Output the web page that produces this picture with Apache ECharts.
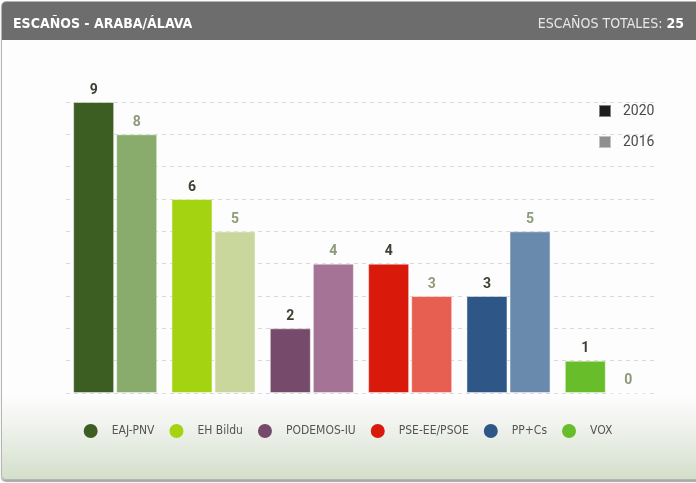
<!DOCTYPE html>
<html>
<head>
<meta charset="utf-8">
<script src="https://cdn.jsdelivr.net/npm/echarts@6/dist/echarts.min.js"></script>
<style>
	html, body {
		margin: 0;
		padding: 0;
		width: 696px;
		height: 483px;
		overflow: hidden;
		background: #ffffff;
	}

	.card {
		position: absolute;
		left: 1px;
		top: 1px;
		width: 720px;
		height: 477px;
		border: 1px solid #b4b4b4;
		border-radius: 5px;
		box-shadow: 0 2px 1px #a8a8a8;
		overflow: hidden;
		background: linear-gradient(to bottom, #fdfdfd 0, #fdfdfd 393px, #f2f4f0 420px, #d3dfcb 477px);
	}

	.card-head {
		height: 38px;
		background: #6d6d6d;
	}

	.chart-main {
		position: absolute;
		left: 0;
		top: 0;
		width: 696px;
		height: 483px;
	}
</style>
</head>
<body>
	<div class="card"><div class="card-head"></div></div>
	<div class="chart-main" id="chart"></div>

	<script>
		var partidos = ['EAJ-PNV', 'EH Bildu', 'PODEMOS-IU', 'PSE-EE/PSOE', 'PP+Cs', 'VOX'];
		var escanos2020 = [9, 6, 2, 4, 3, 1];
		var escanos2016 = [8, 5, 4, 3, 5, 0];
		var colores2020 = ['#3d5e22', '#a4d312', '#764a6a', '#d91a0b', '#2e5787', '#68bd2b'];
		var colores2016 = ['#89ab6b', '#cad79c', '#a57396', '#e65f50', '#6a8aad', '#b6dc98'];
		var escanosTotales = 25;
		var ejeMax = 9;

		var narrow = '"Liberation Sans Narrow", "DejaVu Sans Condensed", sans-serif';

		function barData(valores, colores) {
			return valores.map(function(v, i) {
				return { value: v, itemStyle: { color: colores[i] } };
			});
		}

		var series = [
			{
				name: '2020',
				type: 'bar',
				barWidth: 41,
				barGap: '5%',
				data: barData(escanos2020, colores2020),
				itemStyle: { borderColor: 'rgba(255,255,255,0.45)', borderWidth: 1 },
				label: {
					show: true, position: 'top', distance: 5,
					fontFamily: 'Roboto, sans-serif', fontWeight: 'bold', fontSize: 14, color: '#3b4232'
				}
			},
			{
				name: '2016',
				type: 'bar',
				barWidth: 41,
				barGap: '5%',
				data: barData(escanos2016, colores2016),
				itemStyle: { borderColor: 'rgba(255,255,255,0.45)', borderWidth: 1 },
				label: {
					show: true, position: 'top', distance: 5,
					fontFamily: 'Roboto, sans-serif', fontWeight: 'bold', fontSize: 14, color: '#8e9a7a'
				}
			}
		];

		// empty series, only for the party legend
		partidos.forEach(function(p, i) {
			series.push({ name: p, type: 'scatter', data: [], itemStyle: { color: colores2020[i], opacity: 1 } });
		});

		var option = {
			animation: false,
			title: [
				{
					text: 'ESCAÑOS - ARABA/ÁLAVA',
					left: 8, top: 12,
					textStyle: { color: '#ffffff', fontFamily: narrow, fontWeight: 'bold', fontSize: 14 }
				},
				{
					text: '{a|ESCAÑOS TOTALES: }{b|' + escanosTotales + '}',
					right: 7, top: 12,
					textStyle: {
						rich: {
							a: { color: '#e8e8e8', fontFamily: narrow, fontWeight: 'normal', fontSize: 14 },
							b: { color: '#ffffff', fontFamily: narrow, fontWeight: 'bold', fontSize: 14 }
						}
					}
				}
			],
			legend: [
				{
					data: [
						{ name: '2020', itemStyle: { color: '#1e1e1e' } },
						{ name: '2016', itemStyle: { color: '#909090' } }
					],
					orient: 'vertical',
					left: 593, top: 99,
					icon: 'rect',
					itemWidth: 12, itemHeight: 12, itemGap: 17,
					selectedMode: false,
					textStyle: { color: '#4a4a4a', fontFamily: 'Roboto, sans-serif', fontSize: 14, lineHeight: 14, padding: [0, 0, 0, 7] }
				},
				{
					data: partidos,
					left: 'center', top: 419,
					icon: 'circle',
					itemWidth: 14, itemHeight: 14, itemGap: 15,
					selectedMode: false,
					textStyle: { color: '#555555', fontFamily: narrow, fontSize: 12, padding: [0, 0, 0, 9] }
				}
			],
			grid: { left: 66, right: 40, top: 102, bottom: 90 },
			xAxis: {
				type: 'category',
				data: partidos,
				axisLine: { show: false },
				axisTick: { show: false },
				axisLabel: { show: false }
			},
			yAxis: {
				type: 'value',
				min: 0, max: ejeMax, interval: 1,
				axisLabel: { show: false },
				splitLine: { lineStyle: { type: [4, 4], color: '#d8d8d8' } }
			},
			series: series
		};

		var echart = echarts.init(document.getElementById('chart'));
		echart.setOption(option);
	</script>
</body>
</html>
